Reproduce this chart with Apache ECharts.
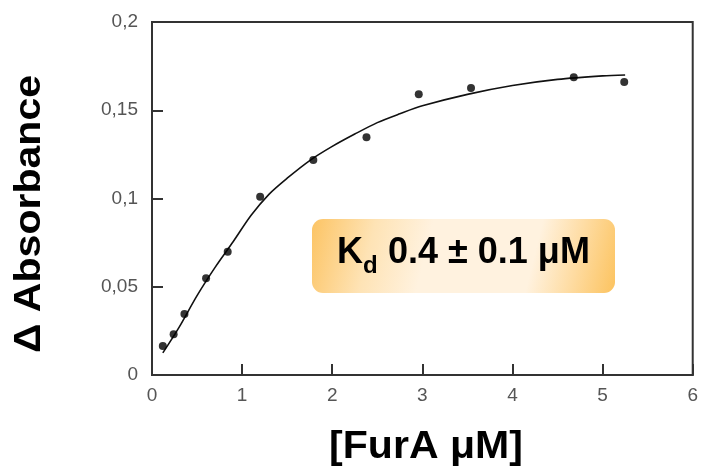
<!DOCTYPE html>
<html>
<head>
<meta charset="utf-8">
<script src="https://cdn.jsdelivr.net/npm/echarts@6/dist/echarts.min.js"></script>
<style>
  html, body { margin: 0; padding: 0; background: #fff; }
  #chart { width: 701px; height: 471px; }
</style>
</head>
<body>
<div id="chart"></div>
<script>
// measured points: [FurA] (uM) vs delta absorbance
var concFurA = [0.12, 0.24, 0.36, 0.60, 0.84, 1.20, 1.79, 2.38, 2.96, 3.54, 4.68, 5.24];
var deltaAbs = [0.0164, 0.0231, 0.0346, 0.0548, 0.0699, 0.101, 0.1218, 0.1347, 0.159, 0.1626, 0.1687, 0.166];

// fitted curve
var fitConc = [0.12, 0.3, 0.5, 0.7, 0.9, 1.1, 1.3, 1.5, 1.75, 2.0, 2.25, 2.5, 2.75, 3.0, 3.5, 4.0, 4.5, 5.0, 5.25];
var fitAbs = [0.0125, 0.027, 0.045, 0.061, 0.0755, 0.0905, 0.1025, 0.1115, 0.1215, 0.1295, 0.1365, 0.143, 0.148, 0.1525, 0.159, 0.164, 0.1675, 0.1695, 0.170];

var xTicks = [0, 1, 2, 3, 4, 5, 6];
var yTicks = [0, 0.05, 0.1, 0.15, 0.2];

var zip = function (a, b) {
    return a.map(function (v, i) { return [v, b[i]]; });
};

var chart = echarts.init(document.getElementById('chart'));

var axisCommon = {
    axisLine: { show: true, lineStyle: { color: '#333', width: 2 } },
    axisTick: { show: true, inside: true, length: 11, lineStyle: { color: '#333', width: 2 } },
    splitLine: { show: false },
    axisLabel: { color: '#555', fontSize: 19, fontFamily: '"Liberation Sans Narrow", "Liberation Sans", sans-serif' }
};

chart.setOption({
    animation: false,
    backgroundColor: '#fff',
    grid: {
        left: 152, right: 6, top: 22, bottom: 96,
        show: true, borderColor: '#333', borderWidth: 2
    },
    xAxis: Object.assign({}, axisCommon, {
        type: 'value',
        min: xTicks[0],
        max: xTicks[xTicks.length - 1],
        interval: 1,
        axisLabel: Object.assign({}, axisCommon.axisLabel, { margin: 11 })
    }),
    yAxis: Object.assign({}, axisCommon, {
        type: 'value',
        min: yTicks[0],
        max: yTicks[yTicks.length - 1],
        interval: 0.05,
        axisLabel: Object.assign({}, axisCommon.axisLabel, {
            margin: 14,
            formatter: function (v) { return String(+v.toFixed(2)).replace('.', ','); }
        })
    }),
    series: [{
        name: 'fit',
        type: 'line',
        data: zip(fitConc, fitAbs),
        smooth: 0.3,
        showSymbol: false,
        lineStyle: { color: '#111', width: 1.6 },
        z: 2
    }, {
        name: 'data',
        type: 'scatter',
        data: zip(concFurA, deltaAbs),
        symbol: 'circle',
        symbolSize: 8,
        itemStyle: { color: '#000' },
        z: 3
    }],
    graphic: [{
        type: 'text',
        x: 30, y: 214,
        rotation: Math.PI / 2,
        scaleX: 1.14,
        style: {
            text: 'Δ Absorbance',
            font: 'bold 36px "Liberation Sans", Arial, sans-serif',
            fill: '#000',
            align: 'center',
            verticalAlign: 'middle'
        }
    }, {
        type: 'text',
        x: 426, y: 448,
        scaleX: 1.08,
        style: {
            text: '[FurA μM]',
            font: 'bold 38px "Liberation Sans", Arial, sans-serif',
            fill: '#000',
            align: 'center',
            verticalAlign: 'middle'
        }
    }, {
        type: 'group',
        children: [{
            type: 'rect',
            shape: { x: 312, y: 219, width: 303, height: 74, r: 11 },
            style: {
                fill: new echarts.graphic.LinearGradient(0, 0, 1, 1, [
                    { offset: 0, color: '#fcc464' },
                    { offset: 0.2, color: '#fee3b5' },
                    { offset: 0.38, color: '#fff2df' },
                    { offset: 0.72, color: '#fff2df' },
                    { offset: 0.86, color: '#fedba0' },
                    { offset: 1, color: '#fcc35f' }
                ])
            }
        }, {
            type: 'text',
            x: 337, y: 253,
            style: {
                text: 'K',
                font: 'bold 36px "Liberation Sans", Arial, sans-serif',
                fill: '#000', align: 'left', verticalAlign: 'middle'
            }
        }, {
            type: 'text',
            x: 363, y: 266,
            style: {
                text: 'd',
                font: 'bold 24px "Liberation Sans", Arial, sans-serif',
                fill: '#000', align: 'left', verticalAlign: 'middle'
            }
        }, {
            type: 'text',
            x: 388, y: 253,
            style: {
                text: '0.4 ± 0.1 μM',
                font: 'bold 36px "Liberation Sans", Arial, sans-serif',
                fill: '#000', align: 'left', verticalAlign: 'middle'
            }
        }]
    }]
});
</script>
</body>
</html>
